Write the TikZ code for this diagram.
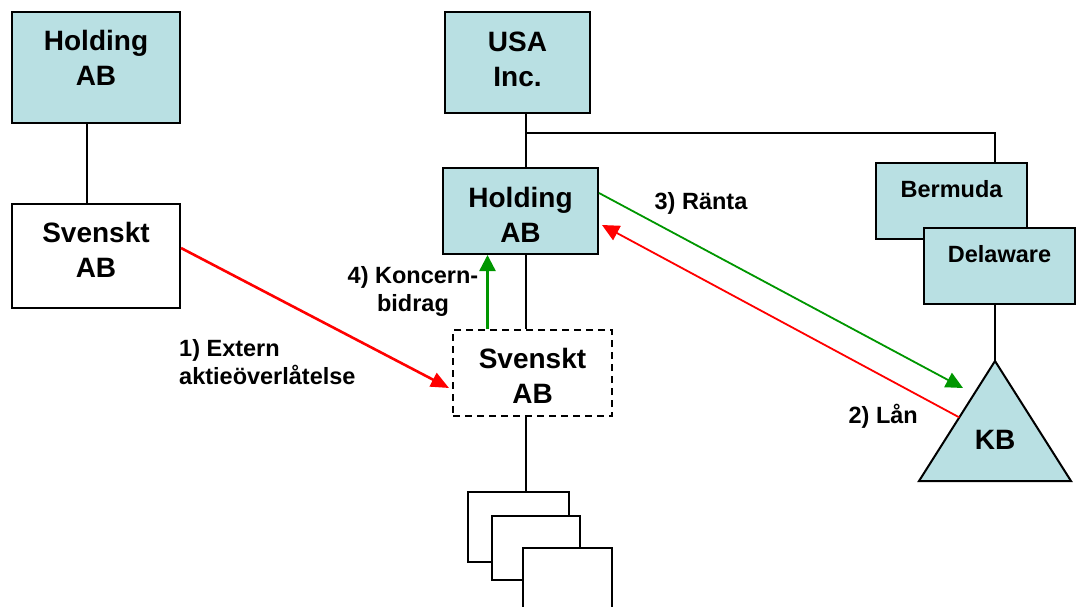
\documentclass[tikz,border=0pt]{standalone}
\usepackage{fontspec}
\setmainfont{Liberation Sans}
\usetikzlibrary{arrows.meta,calc}
\definecolor{boxteal}{RGB}{185,224,227}
\definecolor{flowred}{RGB}{255,0,0}
\definecolor{flowgreen}{RGB}{0,150,0}
\begin{document}
\begin{tikzpicture}[x=1pt, y=-1pt,
		orgbox/.style={draw, line width=2pt, fill=boxteal, inner sep=0pt, align=center,
			font=\fontsize{28}{35}\selectfont\bfseries},
		plainbox/.style={orgbox, fill=white},
		smallbox/.style={orgbox, font=\fontsize{23.5}{28}\selectfont\bfseries, text depth=24pt},
		tie/.style={line width=1.7pt},
		flowlabel/.style={align=center, inner sep=0pt, font=\fontsize{23.5}{28}\selectfont\bfseries}]
		\useasboundingbox (0,0) rectangle (1077,607);
		\clip (0,0) rectangle (1077,607);
		% left group
		\node[orgbox, text depth=19pt, minimum width=168pt, minimum height=111pt] (holdL) at (96,67.5) {Holding\\AB};
		\node[plainbox, text depth=12pt, minimum width=168pt, minimum height=104pt] (svL) at (96,256) {Svenskt\\AB};
		\draw[tie] ([xshift=-9pt]holdL.south) -- ([xshift=-9pt]svL.north);
		% middle group
		\coordinate (spine) at (526,133);
		\node[orgbox, text depth=6pt, minimum width=145pt, minimum height=101pt] (usa) at (517.5,62.5) {USA\\Inc.};
		\node[orgbox, text height=63pt, text depth=0pt, minimum width=155pt, minimum height=86pt] (hold) at (520.5,211) {Holding\\AB};
		\node[plainbox, text height=61pt, text depth=0pt, dash pattern=on 7pt off 5pt, minimum width=159pt, minimum height=86pt] (svD) at (532.5,373) {Svenskt\\AB};
		\node[plainbox, minimum width=101pt, minimum height=70pt] (sub1) at (518.5,527) {};
		\node[plainbox, minimum width=88pt, minimum height=64pt] (sub2) at (536,548) {};
		\node[plainbox, minimum width=89pt, minimum height=74pt] (sub3) at (567.5,585) {};
		\draw[tie] (usa.south -| spine) -- (hold.north -| spine);
		\draw[tie] (hold.south -| spine) -- (svD.north -| spine);
		\draw[tie] (svD.south -| spine) -- (sub1.north -| spine);
		% right group
		\coordinate (kbtop) at (995,361);
		\coordinate (kbleft) at (919,481);
		\coordinate (kbright) at (1071,481);
		\node[smallbox, minimum width=151pt, minimum height=76pt] (bermuda) at (951.5,201) {Bermuda};
		\node[smallbox, minimum width=151pt, minimum height=76pt] (delaware) at (999.5,266) {Delaware};
		\draw[tie] (spine) -| (bermuda.north -| kbtop);
		\draw[tie] (delaware.south -| kbtop) -- (kbtop);
		\draw[line width=2pt, fill=boxteal] (kbtop) -- (kbleft) -- (kbright) -- cycle;
		\node[font=\fontsize{28}{34}\selectfont\bfseries, inner sep=0pt] (kb) at (995,440) {KB};
		% flows
		\coordinate (lanstart) at ($(kbtop)!0.47!(kbleft)$);
		\coordinate (rantaend) at (963,388);
		\draw[flowred, line width=2.6pt, -{Triangle[length=18pt, width=15pt]}]
		([yshift=8pt]svL.east) -- ([xshift=-3pt, yshift=-15pt]svD.west);
		\draw[flowgreen, line width=2.4pt, -{Triangle[length=16pt, width=16pt]}]
		([xshift=-45pt]svD.north) -- ([xshift=-45pt]svD.north |- hold.south);
		\draw[flowgreen, line width=1.8pt, -{Triangle[length=17pt, width=16pt]}]
		([yshift=18pt]hold.east) -- (rantaend);
		\draw[flowred, line width=1.8pt, -{Triangle[length=17pt, width=16pt]}]
		(lanstart) -- ([xshift=3pt, yshift=-14pt]hold.east);
		% labels
		\node[flowlabel, anchor=west, align=left] (lblextern) at (179,362) {1) Extern\\aktieöverlåtelse};
		\node[flowlabel] (lblkoncern) at (413,291) {4) Koncern-\\bidrag};
		\node[flowlabel] (lblranta) at (701,203) {3) Ränta};
		\node[flowlabel, anchor=east] (lbllan) at (918,416) {2) Lån};
	\end{tikzpicture}
\end{document}
